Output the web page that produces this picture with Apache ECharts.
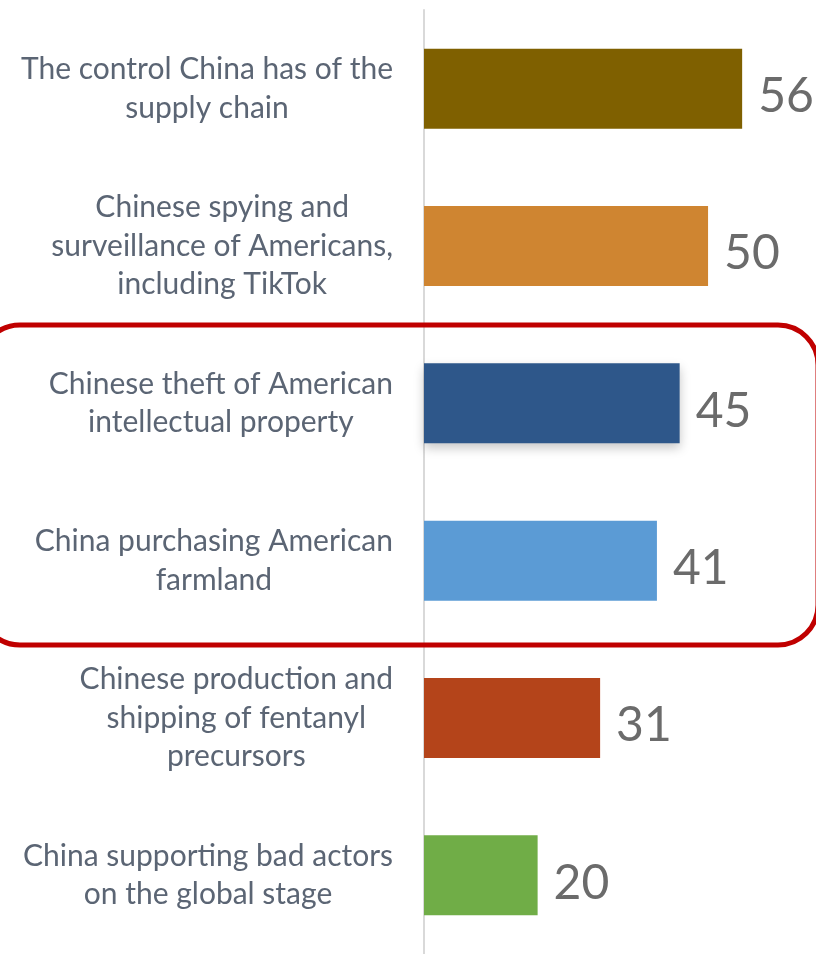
<!DOCTYPE html>
<html>
<head>
<meta charset="utf-8">
<script src="https://cdn.jsdelivr.net/npm/echarts@6/dist/echarts.min.js"></script>
<style>html,body{margin:0;padding:0;background:#fff;}#c{width:816px;height:954px;}</style>
</head>
<body>
<div id="c"></div>
<script>
const categories = [
  'The control China has of the\nsupply chain',
  'Chinese spying and\nsurveillance of Americans,\nincluding TikTok',
  'Chinese theft of American\nintellectual property',
  'China purchasing American\nfarmland',
  'Chinese production and\nshipping of fentanyl\nprecursors',
  'China supporting bad actors\non the global stage'
];
const values = [56, 50, 45, 41, 31, 20];
const colors = ['#7f6000', '#cf8531', '#2e578a', '#5b9bd5', '#b4441a', '#70ad47'];

const chart = echarts.init(document.getElementById('c'));
const data = values.map((v, i) => {
  const item = { value: v, itemStyle: { color: colors[i] } };
  if (i === 2) {
    item.itemStyle.shadowBlur = 10;
    item.itemStyle.shadowOffsetY = 5;
    item.itemStyle.shadowColor = 'rgba(0,0,0,0.22)';
  }
  return item;
});
chart.setOption({
  animation: false,
  grid: { left: 424, right: 0, top: 10, height: 948 },
  xAxis: { type: 'value', min: 0, max: 69, show: false },
  yAxis: {
    type: 'category',
    inverse: true,
    data: categories,
    axisLine: { lineStyle: { color: '#d9d9d9', width: 2 } },
    axisTick: { length: 10, lineStyle: { color: '#d9d9d9', width: 2 } },
    axisLabel: {
      margin: 31,
      align: 'right',
      formatter: v => v.split('\n').map(l => '{c|' + l + '}').join('\n'),
      rich: {
        c: {
          align: 'center',
          color: '#5b6574',
          fontFamily: 'Lato',
          fontSize: 30,
          lineHeight: 38.5
        }
      }
    }
  },
  series: [{
    type: 'bar',
    data: data,
    barWidth: 80,
    label: {
      show: true,
      position: 'right',
      distance: 16,
      offset: [0, 8],
      color: '#6b6b6b',
      fontFamily: 'Lato',
      fontSize: 48
    }
  }],
  graphic: [{
    type: 'rect',
    shape: { x: -20, y: 325, width: 838, height: 320, r: 40 },
    style: { fill: 'none', stroke: '#c00000', lineWidth: 5 },
    silent: true,
    z: 100
  }]
});
</script>
</body>
</html>
